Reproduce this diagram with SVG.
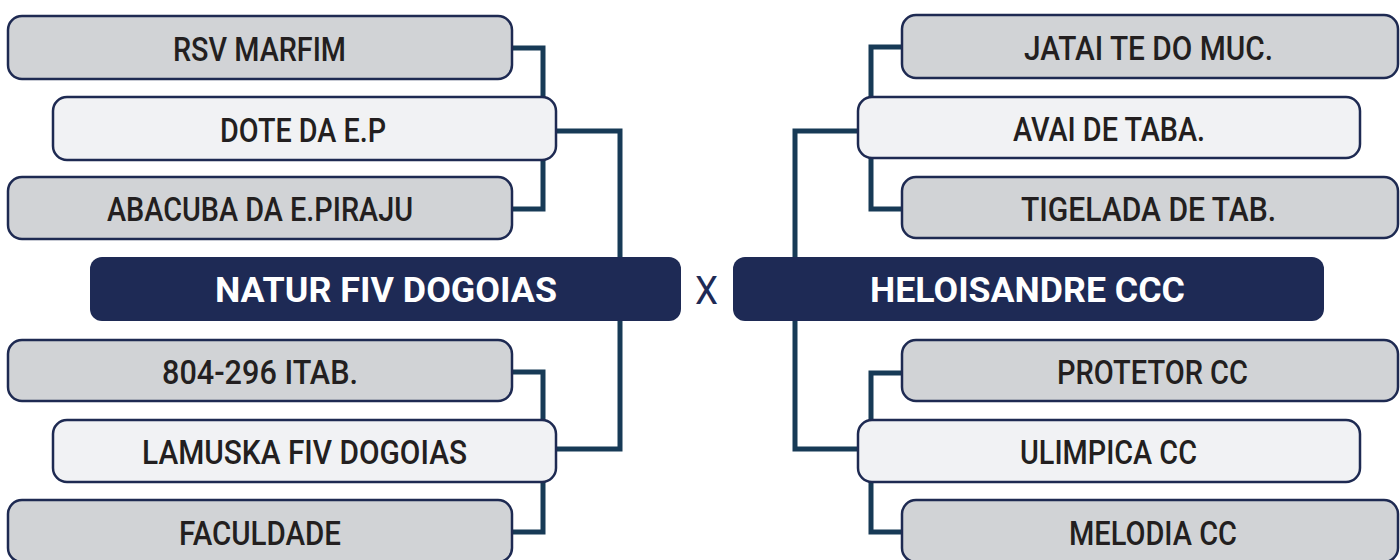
<svg xmlns="http://www.w3.org/2000/svg" width="1400" height="560" viewBox="0 0 1400 560">
<style>
.bg{fill:#ffffff}
.conn{fill:none;stroke:#173a56;stroke-width:5;stroke-linejoin:miter}
.team{fill:#d1d3d6;stroke:#1e2a52;stroke-width:2.5}
.win{fill:#f1f2f4;stroke:#1e2a52;stroke-width:2.5}
.main{fill:#1e2a55}
.t{font-family:Roboto,"Liberation Sans",sans-serif;font-weight:500;font-size:33px;fill:#231f20;text-anchor:middle}
.tm{font-family:Roboto,"Liberation Sans",sans-serif;font-weight:700;font-size:34.5px;fill:#ffffff;text-anchor:middle}
.x{font-family:Roboto,"Liberation Sans",sans-serif;font-weight:400;font-size:38px;fill:#1e2a55;text-anchor:middle}
</style>
<rect class="bg" x="0" y="0" width="1400" height="560"/>
<g id="connectors">
<path class="conn" d="M512,48 H543 V209 H512"/>
<path class="conn" d="M556,131 H620 V449 H556"/>
<path class="conn" d="M512,372 H543 V532 H512"/>
<path class="conn" d="M902,47 H871 V209 H902"/>
<path class="conn" d="M858,131 H795 V449 H858"/>
<path class="conn" d="M902,373 H871 V532 H902"/>
</g>
<g id="rsv-marfim"><rect class="team" x="8" y="16" width="504" height="63" rx="14"/><text class="t" x="259.5" y="61" textLength="173" lengthAdjust="spacingAndGlyphs">RSV MARFIM</text></g>
<g id="dote-da-ep"><rect class="win" x="53" y="97" width="503" height="63" rx="14"/><text class="t" x="303" y="142" textLength="166" lengthAdjust="spacingAndGlyphs">DOTE DA E.P</text></g>
<g id="abacuba"><rect class="team" x="8" y="177" width="504" height="62" rx="14"/><text class="t" x="260" y="221" textLength="306" lengthAdjust="spacingAndGlyphs">ABACUBA DA E.PIRAJU</text></g>
<g id="natur-fiv-dogoias"><rect class="main" x="90" y="257" width="591" height="64" rx="12"/><text class="tm" x="386" y="302" textLength="342" lengthAdjust="spacingAndGlyphs">NATUR FIV DOGOIAS</text></g>
<g id="versus"><text class="x" x="706.5" y="304" textLength="23" lengthAdjust="spacingAndGlyphs">X</text></g>
<g id="heloisandre-ccc"><rect class="main" x="733" y="257" width="591" height="64" rx="12"/><text class="tm" x="1027.5" y="302" textLength="315" lengthAdjust="spacingAndGlyphs">HELOISANDRE CCC</text></g>
<g id="itab"><rect class="team" x="8" y="340" width="504" height="61" rx="14"/><text class="t" x="260" y="384" textLength="196" lengthAdjust="spacingAndGlyphs">804-296 ITAB.</text></g>
<g id="lamuska"><rect class="win" x="53" y="420" width="503" height="62" rx="14"/><text class="t" x="304.5" y="464" textLength="325" lengthAdjust="spacingAndGlyphs">LAMUSKA FIV DOGOIAS</text></g>
<g id="faculdade"><rect class="team" x="8" y="500" width="504" height="62" rx="14"/><text class="t" x="260" y="545" textLength="162" lengthAdjust="spacingAndGlyphs">FACULDADE</text></g>
<g id="jatai"><rect class="team" x="902" y="15" width="496" height="63" rx="14"/><text class="t" x="1148.5" y="60" textLength="249" lengthAdjust="spacingAndGlyphs">JATAI TE DO MUC.</text></g>
<g id="avai"><rect class="win" x="858" y="97" width="502" height="61" rx="14"/><text class="t" x="1109" y="141" textLength="192" lengthAdjust="spacingAndGlyphs">AVAI DE TABA.</text></g>
<g id="tigelada"><rect class="team" x="902" y="177" width="496" height="61" rx="14"/><text class="t" x="1148.5" y="221" textLength="255" lengthAdjust="spacingAndGlyphs">TIGELADA DE TAB.</text></g>
<g id="protetor"><rect class="team" x="902" y="340" width="496" height="61" rx="14"/><text class="t" x="1152.5" y="384" textLength="191" lengthAdjust="spacingAndGlyphs">PROTETOR CC</text></g>
<g id="ulimpica"><rect class="win" x="858" y="420" width="502" height="62" rx="14"/><text class="t" x="1108.5" y="464" textLength="177" lengthAdjust="spacingAndGlyphs">ULIMPICA CC</text></g>
<g id="melodia"><rect class="team" x="902" y="500" width="496" height="62" rx="14"/><text class="t" x="1153" y="545" textLength="168" lengthAdjust="spacingAndGlyphs">MELODIA CC</text></g>
</svg>
